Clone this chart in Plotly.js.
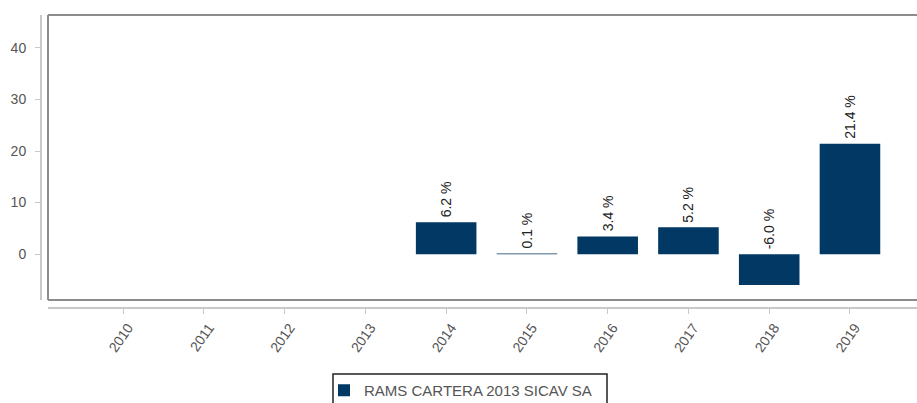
<!DOCTYPE html>
<html>
<head>
<meta charset="utf-8">
<script src="https://cdn.plot.ly/plotly-3.0.1.min.js"></script>
<style>html,body{margin:0;padding:0;background:#fff;}#chart{width:917px;height:403px;}</style>
</head>
<body>
<div id="chart"></div>
<script>
var years = ['2010','2011','2012','2013','2014','2015','2016','2017','2018','2019'];
var returns = [null, null, null, null, 6.2, 0.1, 3.4, 5.2, -6.0, 21.4];
var labels = ['', '', '', '', '6.2 %', '0.1 %', '3.4 %', '5.2 %', '-6.0 %', '21.4 %'];
var seriesName = 'RAMS CARTERA 2013 SICAV SA';
var barColor = '#013864';

var annotations = [];
for (var i = 0; i < years.length; i++) {
  if (returns[i] === null) continue;
  annotations.push({
    x: i, y: Math.max(returns[i], 0), xref: 'x', yref: 'y',
    text: labels[i], showarrow: false, textangle: -90,
    yanchor: 'bottom', xanchor: 'center', yshift: 3,
    font: {family: 'Liberation Sans, Arial, sans-serif', size: 14, color: '#222'}
  });
}

var trace = {
  type: 'bar', x: years, y: returns, name: seriesName,
  marker: {color: barColor, line: {width: 0}},
  width: 0.75, showlegend: true, hoverinfo: 'x+y'
};

var W = 876, H = 293;
var boxLine = {color: '#8c8c8c', width: 2};
var layout = {
  width: 917, height: 403,
  margin: {l: 41, r: 0, t: 15, b: 95, pad: 0, autoexpand: false},
  paper_bgcolor: '#fff', plot_bgcolor: '#fff',
  font: {family: 'Liberation Sans, Arial, sans-serif', size: 14, color: '#555'},
  xaxis: {
    type: 'category', domain: [7/W, 1], anchor: 'free', position: 0,
    range: [-0.93, 9.83], showgrid: false, zeroline: false,
    showline: true, linecolor: '#c8c8c8', linewidth: 2,
    ticks: 'outside', ticklen: 5, tickcolor: '#c8c8c8', tickwidth: 1,
    tickangle: -55, ticklabelshift: 5,
    tickfont: {size: 14, color: '#555'}
  },
  yaxis: {
    domain: [8/H, 1], anchor: 'free', position: 0,
    range: [-8.9, 46.4], showgrid: false, zeroline: false,
    showline: true, linecolor: '#c8c8c8', linewidth: 2,
    ticks: 'outside', ticklen: 5, tickcolor: '#c8c8c8', tickwidth: 1,
    ticklabelstandoff: 6,
    tickvals: [0, 10, 20, 30, 40], ticktext: ['0', '10', '20', '30', '40'],
    tickfont: {size: 14, color: '#555'}
  },
  shapes: [
    {type: 'line', xref: 'x domain', yref: 'y domain', x0: 0, x1: 1, y0: 1, y1: 1, line: boxLine, layer: 'above'},
    {type: 'line', xref: 'x domain', yref: 'y domain', x0: 0, x1: 1, y0: 0, y1: 0, line: boxLine, layer: 'above'},
    {type: 'line', xref: 'x domain', yref: 'y domain', x0: 0, x1: 0, y0: 0, y1: 1, line: boxLine, layer: 'above'},
    {type: 'rect', xref: 'paper', yref: 'paper',
     x0: (333 - 41) / W, x1: (607 - 41) / W, y0: (308 - 374) / H, y1: (308 - 412) / H,
     line: {color: '#222', width: 1.5}, fillcolor: 'rgba(0,0,0,0)', layer: 'above'}
  ],
  annotations: annotations,
  showlegend: true,
  legend: {
    orientation: 'h', x: (324 - 41) / W, xanchor: 'left', y: (308 - 374) / H, yanchor: 'top',
    borderwidth: 0, bgcolor: 'rgba(0,0,0,0)',
    font: {size: 15, color: '#555'}
  },
  bargap: 0.25
};

Plotly.newPlot('chart', [trace], layout, {displayModeBar: false, staticPlot: true});
</script>
</body>
</html>
